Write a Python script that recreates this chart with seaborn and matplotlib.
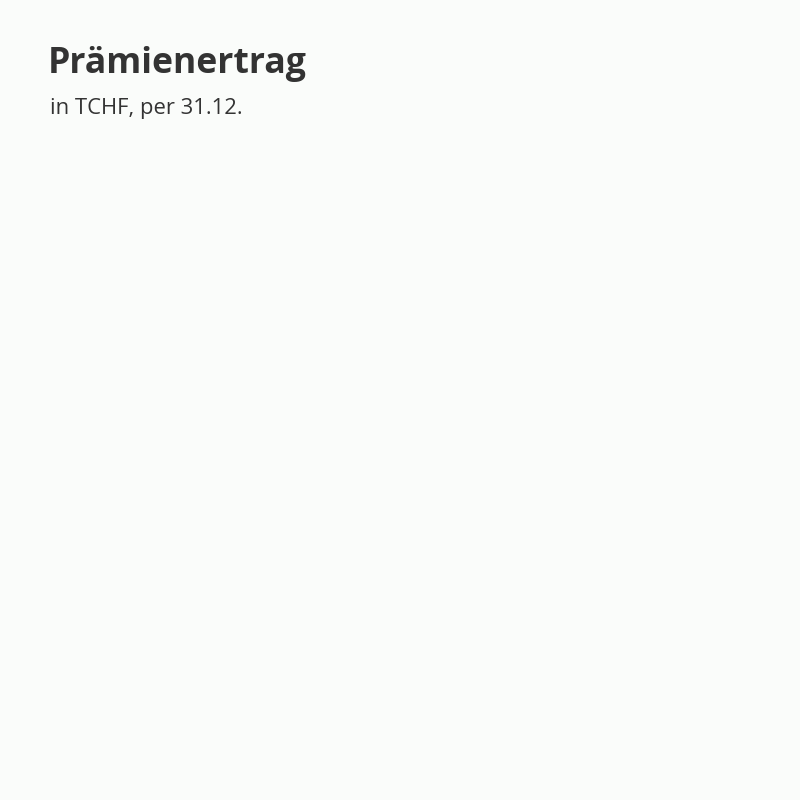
import matplotlib
matplotlib.use("Agg")
import matplotlib.pyplot as plt
import seaborn as sns
import pandas as pd

# the reference shows only the heading, no data is drawn
title = "Prämienertrag"
subtitle = "in TCHF, per 31.12."
years = []
premiums = []

bg = "#fafcfa"
textColor = "#333333"

sns.set_theme(style="white")
plt.rcParams['font.family'] = ['Open Sans', 'DejaVu Sans']

fig = plt.figure(figsize=(8, 8), dpi=100, facecolor=bg)
ax = fig.add_axes([0.06, 0.08, 0.9, 0.75])
ax.set_facecolor(bg)

df = pd.DataFrame({'Jahr': years, 'Prämienertrag': premiums})
if len(df) > 0:
    sns.barplot(x="Jahr", y="Prämienertrag", data=df, ax=ax, color="#4a7c59")
ax.set_axis_off()

fig.text(0.06, 1 - 73 / 800, title, fontsize=25.7, fontweight="bold",
         color=textColor, va="baseline", ha="left")
fig.text(0.0625, 1 - 114 / 800, subtitle, fontsize=15.8,
         color=textColor, va="baseline", ha="left")

fig.savefig("out.png", dpi=100, facecolor=bg)
